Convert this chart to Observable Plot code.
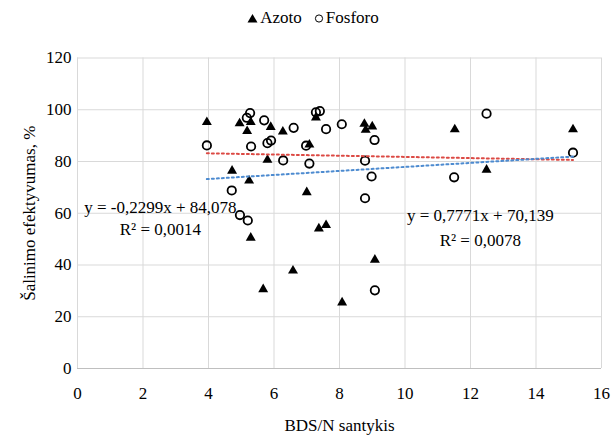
<!DOCTYPE html>
<html><head><meta charset="utf-8">
<script src="https://cdn.jsdelivr.net/npm/d3@7"></script>
<script src="https://cdn.jsdelivr.net/npm/@observablehq/plot@0.6"></script>
<style>
body{margin:0;background:#fff;font-family:"Liberation Serif",serif;}
#legend{width:614px;height:36px;display:flex;justify-content:center;align-items:center;font-family:"Liberation Serif",serif;font-size:17px;padding-left:12px;box-sizing:border-box;color:#000}
#legend span{display:inline-flex;align-items:center;margin:0 6px}
#legend svg{margin-right:2px}
svg text{font-family:"Liberation Serif",serif !important;}
</style></head><body>
<div id="legend"></div>
<div id="chart"></div>
<script>
// Data
const seriesNames = ["Azoto", "Fosforo"];
const azotoX = [3.95,4.72,4.95,5.18,5.29,5.24,5.29,5.67,5.8,5.9,6.27,6.58,7.0,7.08,7.28,7.37,7.59,8.08,8.76,8.8,9.0,9.08,11.52,12.49,15.13];
const azotoY = [95.2,76.4,94.7,91.7,95.2,72.6,50.5,30.6,80.6,93.3,91.5,37.8,68.1,86.5,97.0,54.1,55.4,25.5,94.5,92.2,93.5,42.0,92.4,76.8,92.4];
const fosforoX = [3.95,4.71,4.96,5.2,5.17,5.27,5.3,5.7,5.8,5.91,6.28,6.6,6.98,7.08,7.28,7.4,7.59,8.07,8.78,8.78,8.98,9.07,9.08,11.5,12.49,15.13];
const fosforoY = [86.2,68.8,59.3,57.2,96.9,98.7,85.8,95.9,87.1,88.1,80.4,93.0,86.1,79.2,99.0,99.5,92.5,94.4,80.3,65.8,74.2,88.3,30.2,73.9,98.5,83.4];
// Trendlines as printed on the chart
const trendSlopes = [-0.2299, 0.7771];
const trendIntercepts = [84.078, 70.139];
const trendLabels = [["y = -0,2299x + 84,078", "R² = 0,0014"], ["y = 0,7771x + 70,139", "R² = 0,0078"]];
const labelPosX = [2.53, 12.3];
const labelPosY = [[62.2, 53.7], [59.0, 49.3]];
const xTicks = [0,2,4,6,8,10,12,14,16];
const yTicks = [0,20,40,60,80,100,120];
const xTitle = "BDS/N santykis";
const yTitle = "Šalinimo efektyvumas, %";

const azoto = azotoX.map((x, i) => ({x, y: azotoY[i]}));
const fosforo = fosforoX.map((x, i) => ({x, y: fosforoY[i]}));
const trendColors = ["#dc4a44", "#4d8bd0"];
const trendData = [azotoX, fosforoX].map((xs, k) => {
  const x0 = d3.min(xs), x1 = d3.max(xs);
  return [x0, x1].map(x => ({x, y: trendSlopes[k] * x + trendIntercepts[k], k}));
});
const annot = [];
trendLabels.forEach((lines, k) => lines.forEach((t, j) => annot.push({x: labelPosX[k], y: labelPosY[k][j], t})));

// Legend
const lg = document.getElementById("legend");
lg.innerHTML = `<span><svg width="11" height="10"><path d="M5.5,1 L10.5,9.5 L0.5,9.5 Z" fill="#000"/></svg>${seriesNames[0]}</span>
<span><svg width="10" height="10"><circle cx="5" cy="5.5" r="3.6" fill="none" stroke="#000" stroke-width="1"/></svg>${seriesNames[1]}</span>`;

const font = "Liberation Serif, serif";
const chart = Plot.plot({
  width: 614,
  height: 401,
  marginLeft: 77,
  marginRight: 13,
  marginTop: 21.5,
  marginBottom: 69,
  style: {fontFamily: font, fontSize: "17px", color: "#000", background: "#fff"},
  x: {domain: [0, 16]},
  y: {domain: [0, 120]},
  marks: [
    Plot.gridX(xTicks, {stroke: "#d9d9d9", strokeOpacity: 1, strokeWidth: 1}),
    Plot.gridY(yTicks, {stroke: "#d9d9d9", strokeOpacity: 1, strokeWidth: 1}),
    Plot.ruleY([0], {stroke: "#bfbfbf", strokeWidth: 1}),
    Plot.axisX({ticks: xTicks, tickSize: 0, tickPadding: 18, fontSize: 17, fontFamily: font, label: xTitle, labelAnchor: "center", labelArrow: "none", labelOffset: 62}),
    Plot.axisY({ticks: yTicks, tickSize: 0, tickPadding: 6, fontSize: 17, fontFamily: font, label: yTitle, labelAnchor: "center", labelArrow: "none", labelOffset: 55}),
    Plot.dot(azoto, {x: "x", y: "y", symbol: "triangle", r: 3.7, fill: "#000", stroke: "none"}),
    Plot.dot(fosforo, {x: "x", y: "y", r: 4.2, fill: "none", stroke: "#000", strokeWidth: 1.8}),
    ...trendData.map((d, k) => Plot.line(d, {x: "x", y: "y", stroke: trendColors[k], strokeWidth: 2, strokeDasharray: "2 3"})),
    Plot.text(annot, {x: "x", y: "y", text: "t", fontSize: 17, fontFamily: font, fill: "#000", textAnchor: "middle"})
  ]
});
document.getElementById("chart").appendChild(chart);
</script>
</body></html>
